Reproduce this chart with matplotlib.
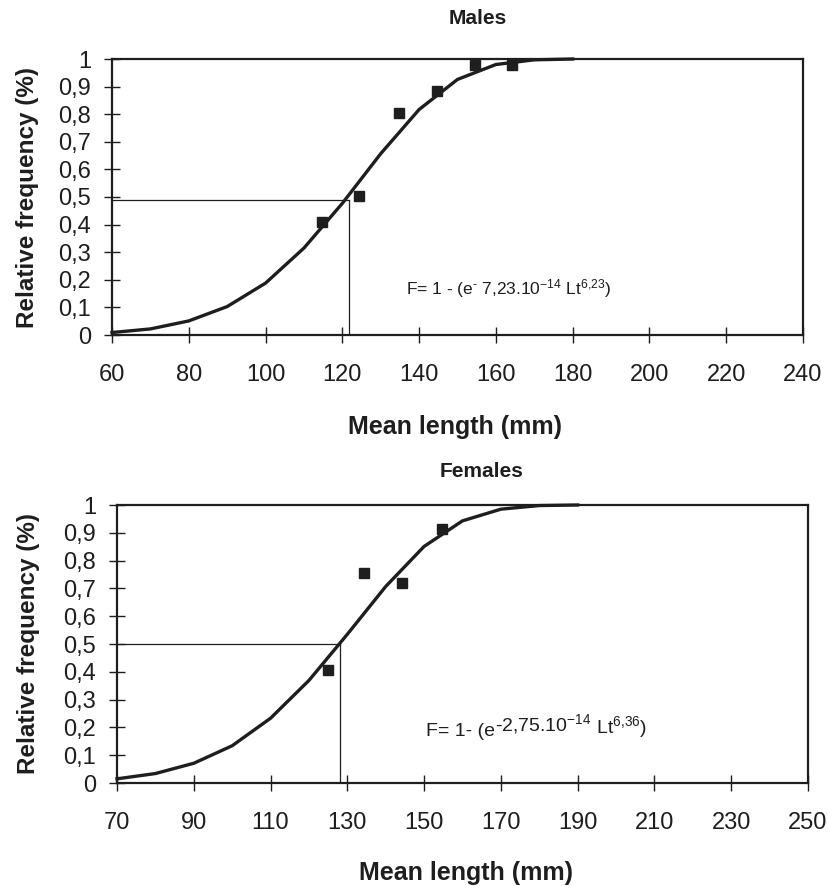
import matplotlib
matplotlib.use('Agg')
import matplotlib.pyplot as plt
from matplotlib import font_manager

# ---------------- data ----------------
male_len = [114.6, 124.4, 134.7, 144.7, 154.5, 164.3]
male_freq = [0.41, 0.505, 0.805, 0.885, 0.98, 0.98]
male_curve_len = [60, 70, 80, 90, 100, 110, 120, 130, 140, 150, 160, 170, 180]
male_curve_freq = [0.009, 0.022, 0.051, 0.103, 0.188, 0.315, 0.477, 0.657, 0.817, 0.926, 0.980, 0.997, 1.0]
male_l50 = 121.7
male_f50 = 0.49

female_len = [125.0, 134.3, 144.2, 154.7]
female_freq = [0.405, 0.755, 0.72, 0.915]
female_curve_len = [70, 80, 90, 100, 110, 120, 130, 140, 150, 160, 170, 180, 190]
female_curve_freq = [0.015, 0.034, 0.071, 0.134, 0.233, 0.369, 0.535, 0.707, 0.851, 0.943, 0.985, 0.998, 1.0]
female_l50 = 128.2
female_f50 = 0.50

male_xticks = [60, 80, 100, 120, 140, 160, 180, 200, 220, 240]
female_xticks = [70, 90, 110, 130, 150, 170, 190, 210, 230, 250]
yticks = [0, 0.1, 0.2, 0.3, 0.4, 0.5, 0.6, 0.7, 0.8, 0.9, 1]
ytick_labels = ['0', '0,1', '0,2', '0,3', '0,4', '0,5', '0,6', '0,7', '0,8', '0,9', '1']

male_title = 'Males'
female_title = 'Females'
xlabel = 'Mean length (mm)'
ylabel = 'Relative frequency (%)'
male_formula = r'F= 1 - (e$^{\text{-}}$ 7,23.10$^{-14}$ Lt$^{6{,}23}$)'
female_formula_parts = ['F= 1- (e', r'-2,75.10$^{-14}$', r' Lt$^{6{,}36}$)']

# ---------------- style ----------------
names = {f.name for f in font_manager.fontManager.ttflist}
base = 'Liberation Sans' if 'Liberation Sans' in names else 'DejaVu Sans'
plt.rcParams['font.family'] = [base, 'DejaVu Sans']
plt.rcParams['mathtext.default'] = 'regular'
plt.rcParams['mathtext.fontset'] = 'custom'
plt.rcParams['mathtext.rm'] = base
plt.rcParams['mathtext.it'] = base
plt.rcParams['mathtext.bf'] = base + ':bold'

INK = '#1e1e1e'

fig = plt.figure(figsize=(8.29, 8.86), dpi=100)
fig.patch.set_facecolor('white')
ax1 = fig.add_axes([112 / 829, 1 - 335 / 886, 691 / 829, 276 / 886])
ax2 = fig.add_axes([117 / 829, 1 - 783 / 886, 691 / 829, 278 / 886])


def style(ax, xticks, title, tx, ty):
    ax.set_xlim(xticks[0], xticks[-1])
    ax.set_ylim(0, 1)
    ax.set_xticks(xticks)
    ax.set_xticklabels([str(v) for v in xticks])
    ax.set_yticks(yticks)
    ax.set_yticklabels(ytick_labels)
    ax.tick_params(axis='both', direction='inout', length=12, width=1.0,
                   color=INK, labelcolor=INK, labelsize=17)
    ax.tick_params(axis='x', pad=15)
    ax.tick_params(axis='y', pad=9)
    for s in ax.spines.values():
        s.set_linewidth(1.6)
        s.set_color(INK)
    ax.set_xlabel(xlabel, fontsize=18, fontweight='bold', color=INK)
    ax.set_ylabel(ylabel, fontsize=17.5, fontweight='bold', color=INK)
    ax.text(tx, ty, title, transform=ax.transAxes, ha='center', va='center',
            fontsize=15, fontweight='bold', color=INK)


style(ax1, male_xticks, male_title, 0.53, 1.145)
style(ax2, female_xticks, female_title, 0.527, 1.122)
ax1.xaxis.set_label_coords(0.497, -0.29)
ax2.xaxis.set_label_coords(0.505, -0.28)
ax1.yaxis.set_label_coords(-0.105, 0.5)
ax2.yaxis.set_label_coords(-0.112, 0.5)

# males
ax1.plot([male_curve_len[0], male_l50], [male_f50, male_f50], color=INK, lw=0.9)
ax1.plot([male_l50, male_l50], [0, male_f50], color=INK, lw=0.9)
ax1.plot(male_curve_len, male_curve_freq, color=INK, lw=2.4, clip_on=False,
         solid_joinstyle='round')
ax1.plot(male_len, male_freq, 's', color=INK, ms=7.5, clip_on=False)
ax1.text(136.5, 0.17, male_formula, fontsize=12.5, color=INK, va='center')

# females
ax2.plot([female_curve_len[0], female_l50], [female_f50, female_f50], color=INK, lw=0.9)
ax2.plot([female_l50, female_l50], [0, female_f50], color=INK, lw=0.9)
ax2.plot(female_curve_len, female_curve_freq, color=INK, lw=2.4, clip_on=False,
         solid_joinstyle='round')
ax2.plot(female_len, female_freq, 's', color=INK, ms=7.5, clip_on=False)
t1 = ax2.text(150.5, 0.17, female_formula_parts[0], fontsize=14, color=INK,
              va='baseline')
t2 = ax2.annotate(female_formula_parts[1], xy=(1, 0), xycoords=t1,
                  xytext=(0, 3), textcoords='offset points', fontsize=14,
                  color=INK, va='bottom', ha='left')
t3 = ax2.annotate(female_formula_parts[2], xy=(1, 0), xycoords=t2,
                  xytext=(0, -3), textcoords='offset points', fontsize=14,
                  color=INK, va='bottom', ha='left')

fig.savefig('out.png', dpi=100, facecolor='white')
